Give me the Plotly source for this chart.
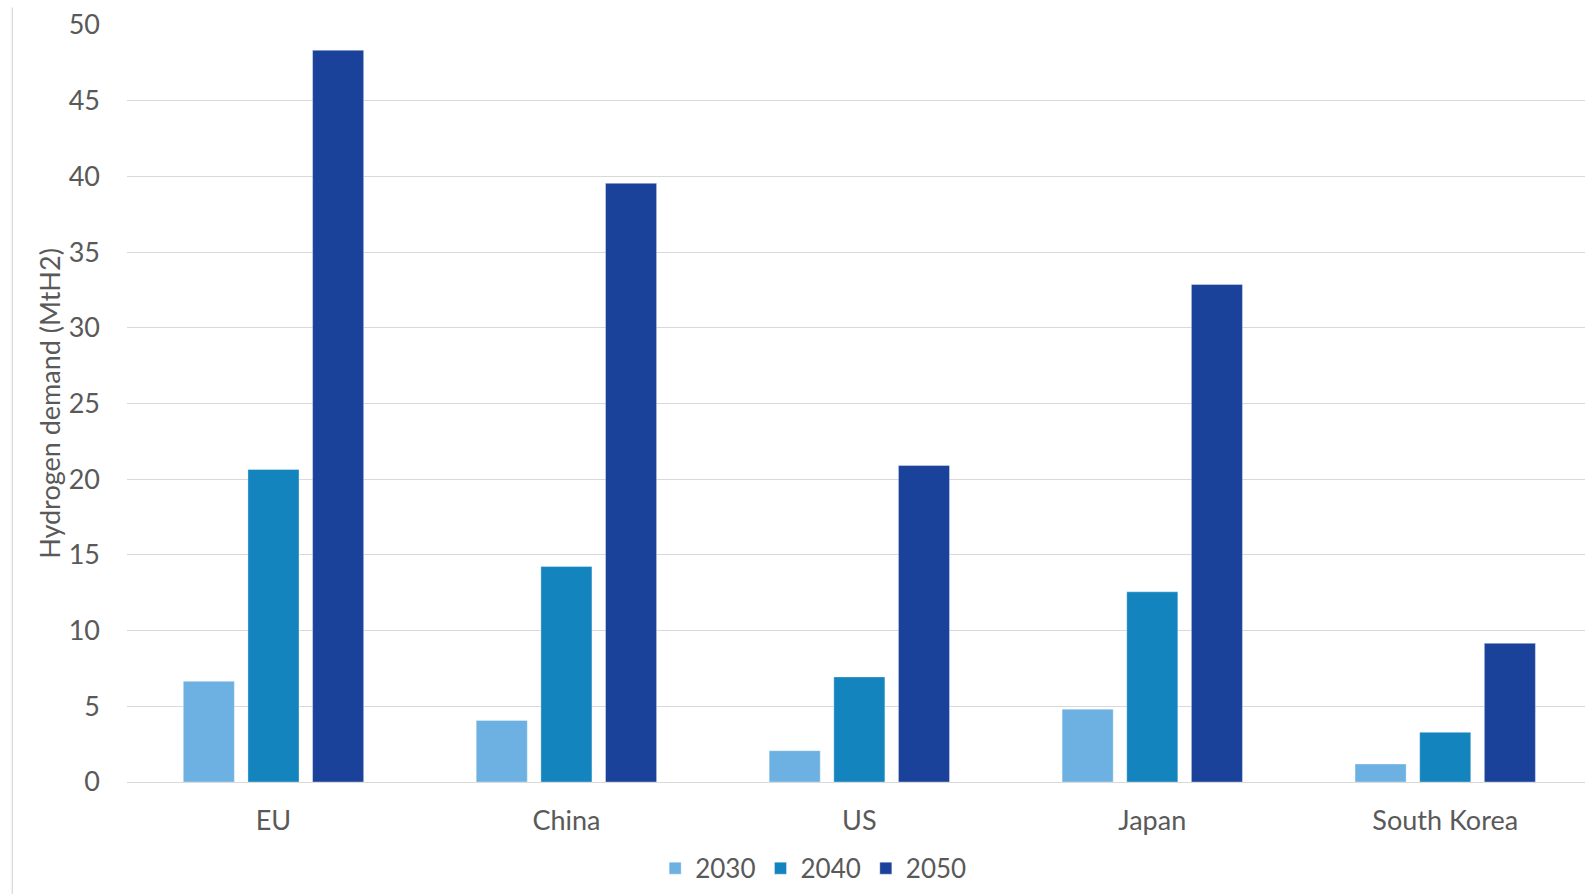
import plotly.graph_objects as go

regions = ["EU", "China", "US", "Japan", "South Korea"]
years = ["2030", "2040", "2050"]
demand_2030 = [6.65, 4.07, 2.07, 4.81, 1.19]
demand_2040 = [20.64, 14.23, 6.94, 12.56, 3.28]
demand_2050 = [48.33, 39.54, 20.9, 32.86, 9.16]
colors = ["#6CB1E1", "#1384BE", "#1B429A"]

W, H = 1585, 894
L, T, B = 126.7, 24.5, 112.3
plot_w = W - L
plot_h = H - T - B
cat_px = 293.0

fig = go.Figure()
for name, vals, col in zip(years, [demand_2030, demand_2040, demand_2050], colors):
    fig.add_trace(go.Bar(
        x=regions, y=vals, name=name,
        marker=dict(color=col, line=dict(color="rgba(255,255,255,0.35)", width=1)),
    ))

font_family = "Lato, 'Open Sans', sans-serif"
grey = "#595959"

fig.update_layout(
    width=W, height=H,
    margin=dict(l=L, r=0, t=T, b=B, pad=0),
    paper_bgcolor="white", plot_bgcolor="white",
    barmode="group", bargap=0.338, bargroupgap=0.21,
    font=dict(family=font_family, color=grey, size=27),
    showlegend=True,
    legend=dict(orientation="h", x=(813 - L) / plot_w, xanchor="center",
                y=-(868 - (H - B)) / plot_h, yanchor="middle",
                font=dict(size=26, color=grey), traceorder="normal",
                itemwidth=30, tracegroupgap=0),
    xaxis=dict(range=[-0.5, -0.5 + plot_w / cat_px], showgrid=False, showline=False,
               ticks="", tickfont=dict(size=27, color=grey), ticklabelstandoff=20,
               zeroline=False),
    yaxis=dict(range=[0, 50], dtick=5, showgrid=True, gridcolor="#D9D9D9", gridwidth=1.3,
               zeroline=True, zerolinecolor="#D9D9D9", zerolinewidth=1.3,
               showline=False, ticks="", tickfont=dict(size=27, color=grey),
               ticklabelstandoff=26,
               title=dict(text="Hydrogen demand (MtH2)", font=dict(size=27, color=grey),
                          standoff=0)),
    shapes=[dict(type="line", xref="paper", yref="paper",
                 x0=(12 - L) / plot_w, x1=(12 - L) / plot_w,
                 y0=-(H - (H - B)) / plot_h, y1=((H - B) - 7) / plot_h,
                 line=dict(color="#D9D9D9", width=1.3))],
)

fig.write_html("out.html")
